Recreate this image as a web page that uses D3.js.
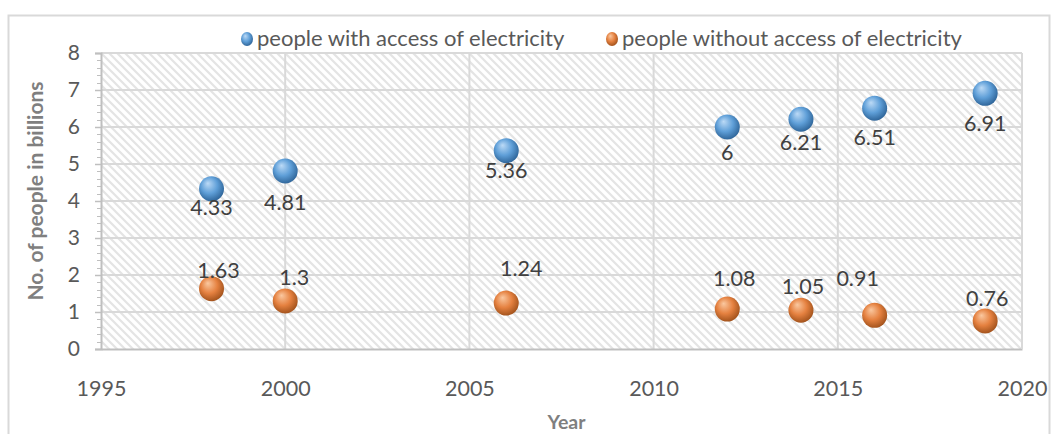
<!DOCTYPE html>
<html>
<head>
<meta charset="utf-8">
<script src="https://cdn.jsdelivr.net/npm/d3@7/dist/d3.min.js"></script>
<style>
  html, body { margin: 0; padding: 0; background: #fff; }
  svg { display: block; font-family: Lato, "Open Sans", sans-serif; }
</style>
</head>
<body>
<svg id="chart" width="1058" height="434"></svg>
<script>
// ---- data ----
const years = [1998, 2000, 2006, 2012, 2014, 2016, 2019];
const withAccess = [4.33, 4.81, 5.36, 6, 6.21, 6.51, 6.91];
const withoutAccess = [1.63, 1.3, 1.24, 1.08, 1.05, 0.91, 0.76];
const seriesNames = ["people with access of electricity", "people without access of electricity"];
const xTicks = [1995, 2000, 2005, 2010, 2015, 2020];
const yTicks = [0, 1, 2, 3, 4, 5, 6, 7, 8];
const xTitle = "Year";
const yTitle = "No. of people in billions";

// ---- layout (label nudges, px, as dragged in the original) ----
const withLabelNudge = [[0, 26], [0, 39], [0, 27], [0, 33], [0, 31], [0, 37], [0, 38]];
const withoutLabelNudge = [[7, -11], [9, -16], [15, -27], [7, -23], [2, -16], [-17, -29], [2, -15]];

const svg = d3.select("#chart");
const plot = { left: 101, right: 1022, top: 53, bottom: 349 };

const x = d3.scaleLinear().domain([1995, 2020]).range([plot.left, plot.right]);
const y = d3.scaleLinear().domain([0, 8]).range([plot.bottom, plot.top]);

const defs = svg.append("defs");
// hatch pattern
const pat = defs.append("pattern").attr("id", "hatch").attr("patternUnits", "userSpaceOnUse")
  .attr("width", 8).attr("height", 8);
pat.append("rect").attr("width", 8).attr("height", 8).attr("fill", "#ffffff");
pat.append("path").attr("d", "M-2,-2 L10,10 M-2,6 L2,10 M6,-2 L10,2")
  .attr("stroke", "#e4e4e4").attr("stroke-width", 2.2);

function sphere(id, light, mid, dark) {
  const g = defs.append("radialGradient").attr("id", id)
    .attr("cx", "0.45").attr("cy", "0.42").attr("r", "0.6")
    .attr("fx", "0.35").attr("fy", "0.28");
  g.append("stop").attr("offset", "0%").attr("stop-color", light);
  g.append("stop").attr("offset", "55%").attr("stop-color", mid);
  g.append("stop").attr("offset", "100%").attr("stop-color", dark);
}
sphere("gBlue", "#bcdaf6", "#5f9fd8", "#2d6397");
sphere("gOrange", "#fac8a0", "#e58140", "#a0511b");

// chart border
svg.append("rect").attr("x", 8.5).attr("y", 15.5).attr("width", 1041).attr("height", 430)
  .attr("fill", "none").attr("stroke", "#d9d9d9").attr("stroke-width", 2);

// plot background
svg.append("rect").attr("x", plot.left).attr("y", plot.top)
  .attr("width", plot.right - plot.left).attr("height", plot.bottom - plot.top)
  .attr("fill", "url(#hatch)");

// gridlines
const grid = svg.append("g");
grid.selectAll("line.h").data(yTicks.filter(d => d > 0)).join("line")
  .attr("x1", plot.left).attr("x2", plot.right)
  .attr("y1", d => y(d)).attr("y2", d => y(d))
  .attr("stroke", "#d9d9d9").attr("stroke-width", 2);
grid.selectAll("line.v").data(xTicks.filter(d => d > 1995)).join("line")
  .attr("y1", plot.top).attr("y2", plot.bottom)
  .attr("x1", d => x(d)).attr("x2", d => x(d))
  .attr("stroke", "#d9d9d9").attr("stroke-width", 2);

// y axis
const yAxis = svg.append("g").attr("transform", `translate(${plot.left},0)`)
  .call(d3.axisLeft(y).tickValues(yTicks).tickSize(6).tickPadding(15).tickFormat(d3.format("d")));
yAxis.select(".domain").attr("stroke", "#bfbfbf").attr("stroke-width", 2);
yAxis.selectAll(".tick line").attr("stroke", "#bfbfbf").attr("stroke-width", 1.5);
yAxis.selectAll(".tick text").attr("fill", "#595959").style("font-size", "21px")
  .style("font-family", "Lato, sans-serif");
// minor ticks
const minor = d3.range(0, 8.001, 0.2).filter(v => Math.abs(v - Math.round(v)) > 1e-6);
svg.append("g").selectAll("line").data(minor).join("line")
  .attr("x1", plot.left - 4).attr("x2", plot.left)
  .attr("y1", d => Math.round(y(d)) + 0.5).attr("y2", d => Math.round(y(d)) + 0.5)
  .attr("stroke", "#bfbfbf").attr("stroke-width", 1);

// x axis
const xAxis = svg.append("g").attr("transform", `translate(0,${plot.bottom})`)
  .call(d3.axisBottom(x).tickValues(xTicks).tickSize(0).tickPadding(32).tickFormat(d3.format("d")));
xAxis.select(".domain").attr("stroke", "#bfbfbf").attr("stroke-width", 2);
xAxis.selectAll(".tick text").attr("fill", "#595959").style("font-size", "21.5px")
  .style("font-family", "Lato, sans-serif");
// right plot border
svg.append("line").attr("x1", plot.right).attr("x2", plot.right)
  .attr("y1", plot.top).attr("y2", plot.bottom).attr("stroke", "#d9d9d9").attr("stroke-width", 2);

// axis titles
svg.append("text").attr("transform", `translate(43,${(plot.top + plot.bottom) / 2 - 10}) rotate(-90)`)
  .attr("text-anchor", "middle").attr("fill", "#7f7f7f")
  .style("font-size", "21px").style("font-weight", "bold").text(yTitle);
svg.append("text").attr("x", (plot.left + plot.right) / 2 + 5).attr("y", 429)
  .attr("text-anchor", "middle").attr("fill", "#7f7f7f")
  .style("font-size", "19.5px").style("font-weight", "bold").text(xTitle);

// series
const series = [
  { name: seriesNames[0], values: withAccess, fill: "url(#gBlue)", nudge: withLabelNudge },
  { name: seriesNames[1], values: withoutAccess, fill: "url(#gOrange)", nudge: withoutLabelNudge }
];
const R = 12.5;
series.forEach(s => {
  const pts = years.map((yr, i) => ({ yr, v: s.values[i], n: s.nudge[i] }));
  const g = svg.append("g");
  g.selectAll("circle").data(pts).join("circle")
    .attr("cx", d => x(d.yr)).attr("cy", d => y(d.v)).attr("r", R)
    .attr("fill", s.fill);
  g.selectAll("text").data(pts).join("text")
    .attr("x", d => x(d.yr) + d.n[0]).attr("y", d => y(d.v) + d.n[1])
    .attr("text-anchor", "middle").attr("fill", "#404040")
    .style("font-size", "21.5px").text(d => String(d.v));
});

// legend
const legendItems = [
  { name: seriesNames[0], fill: "url(#gBlue)", x: 247 },
  { name: seriesNames[1], fill: "url(#gOrange)", x: 612 }
];
const lg = svg.append("g");
legendItems.forEach(it => {
  lg.append("ellipse").attr("cx", it.x).attr("cy", 39).attr("rx", 6).attr("ry", 7).attr("fill", it.fill);
  lg.append("text").attr("x", it.x + 10).attr("y", 46).attr("fill", "#595959")
    .style("font-size", "22px").text(it.name);
});
</script>
</body>
</html>
